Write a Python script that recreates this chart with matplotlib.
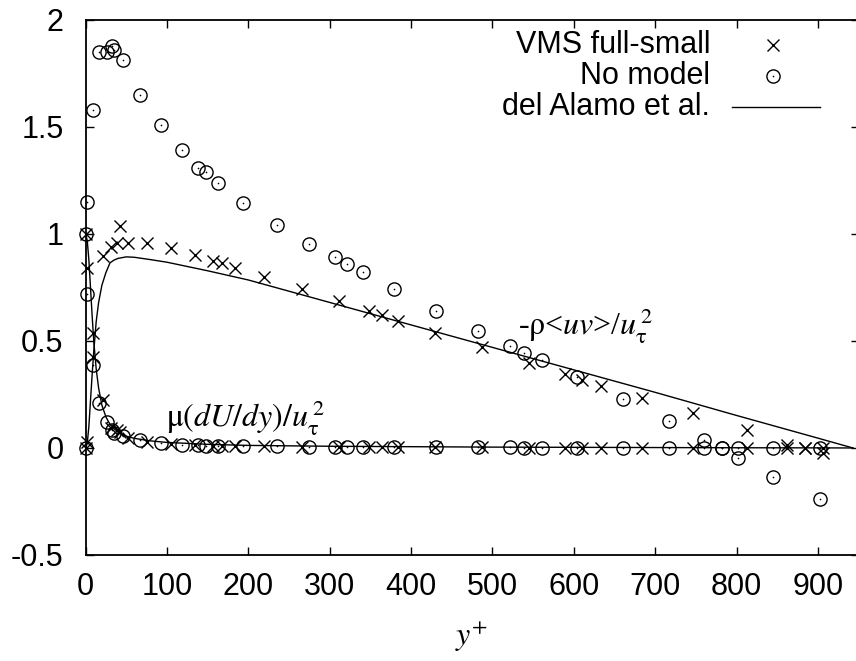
import matplotlib
matplotlib.use('Agg')
import matplotlib.pyplot as plt
from matplotlib.lines import Line2D

plt.rcParams['font.family'] = ['Liberation Sans', 'DejaVu Sans']
plt.rcParams['mathtext.fontset'] = 'stix'
plt.rcParams['axes.unicode_minus'] = False

# ---- data ----
vms_x = [0, 2.1, 9.5, 21, 30.8, 38.2, 42.3, 52.5, 75.1, 104.6, 134.5, 157, 167.3,
         183.6, 219.6, 265.6, 311.8, 348.7, 363.9, 384.3, 429.4, 486.8, 545.3,
         589.2, 609.7, 633.4, 683.4, 746.8, 812.5, 861.6, 884.0, 906.6]
vms_reynolds = [0.0, 0.03, 0.424, 0.897, 0.941, 0.956, 1.039, 0.959, 0.956, 0.936,
                0.902, 0.875, 0.863, 0.843, 0.798, 0.745, 0.687, 0.642, 0.621,
                0.595, 0.539, 0.470, 0.399, 0.346, 0.318, 0.291, 0.232, 0.162,
                0.084, 0.014, 0.0, -0.025]
vms_viscous = [1.0, 0.84, 0.536, 0.224, 0.092, 0.084, 0.076, 0.045, 0.029, 0.018,
               0.013, 0.010, 0.009, 0.008, 0.007, 0.006, 0.005, 0.004, 0.004,
               0.004, 0.003, 0.003, 0.002, 0.002, 0.002, 0.002, 0.001, 0.001,
               0.001, 0.0, 0.0, 0.0]

nomodel_x = [0, 1.7, 8.7, 16.8, 26.7, 32.8, 35.3, 46.3, 66.9, 92.7, 118.8, 138.5,
             148.0, 163.1, 193.8, 234.9, 274.9, 306.5, 320.9, 340.5, 379.0, 430.6,
             481.9, 521.6, 539.1, 560.5, 603.5, 660.1, 717.0, 760.4, 781.7, 802.1,
             845.2, 902.5]
nomodel_reynolds = [0.0, 1.15, 1.58, 1.849, 1.849, 1.880, 1.860, 1.813, 1.650,
                    1.509, 1.393, 1.310, 1.291, 1.240, 1.145, 1.042, 0.955, 0.893,
                    0.860, 0.824, 0.742, 0.640, 0.548, 0.478, 0.445, 0.411, 0.333,
                    0.229, 0.126, 0.037, 0.0, -0.045, -0.137, -0.240]
nomodel_viscous = [1.0, 0.72, 0.39, 0.209, 0.123, 0.084, 0.072, 0.056, 0.037,
                   0.022, 0.015, 0.012, 0.011, 0.010, 0.008, 0.007, 0.006, 0.005,
                   0.005, 0.004, 0.004, 0.003, 0.003, 0.003, 0.002, 0.002, 0.002,
                   0.001, 0.001, 0.001, 0.0, 0.0, 0.0, 0.0]

ref_x = [0, 2, 4, 6, 8, 10, 13, 16, 20, 25, 30, 35, 40, 50, 60, 80, 100, 150,
         200, 300, 400, 500, 600, 700, 800, 900, 943]
ref_reynolds = [0.0, 0.02, 0.10, 0.22, 0.34, 0.45, 0.59, 0.68, 0.76, 0.82, 0.865,
                0.878, 0.886, 0.893, 0.891, 0.880, 0.868, 0.828, 0.785, 0.680,
                0.575, 0.470, 0.365, 0.260, 0.152, 0.046, 0.0]
ref_viscous = [1.0, 0.97, 0.88, 0.75, 0.62, 0.50, 0.37, 0.28, 0.20, 0.145, 0.11,
               0.09, 0.075, 0.055, 0.045, 0.033, 0.026, 0.017, 0.012, 0.008,
               0.006, 0.004, 0.003, 0.002, 0.001, 0.0005, 0.0]

x_ticks = [0, 100, 200, 300, 400, 500, 600, 700, 800, 900]
y_ticks = [-0.5, 0, 0.5, 1, 1.5, 2]
y_tick_labels = ['-0.5', '0', '0.5', '1', '1.5', '2']

legend_labels = ['VMS full-small', 'No model', 'del Alamo et al.']

# ---- figure ----
fig = plt.figure(figsize=(8.56, 6.61), dpi=100)
ax = fig.add_axes([0.1, 0.1604, 0.903, 0.8094])

lw = 1.0
xkw = dict(linestyle='none', marker='x', markersize=8.5, markeredgewidth=1.0,
           color='black', clip_on=False, zorder=3)
okw = dict(linestyle='none', marker='o', markersize=9.5, markeredgewidth=1.0,
           markerfacecolor='none', markeredgecolor='black', clip_on=False, zorder=3)
dkw = dict(linestyle='none', marker='o', markersize=1.2, markeredgewidth=0,
           color='black', clip_on=False, zorder=3)

ax.plot(ref_x, ref_reynolds, color='black', lw=lw, zorder=2)
ax.plot(ref_x, ref_viscous, color='black', lw=lw, zorder=2)

ax.plot(vms_x, vms_reynolds, **xkw)
ax.plot(vms_x, vms_viscous, **xkw)

ax.plot(nomodel_x, nomodel_reynolds, **okw)
ax.plot(nomodel_x, nomodel_reynolds, **dkw)
ax.plot(nomodel_x, nomodel_viscous, **okw)
ax.plot(nomodel_x, nomodel_viscous, **dkw)

ax.set_xlim(0, 950)
ax.set_ylim(-0.5, 2)
ax.set_xticks(x_ticks)
ax.set_xticklabels([str(t) for t in x_ticks])
ax.set_yticks(y_ticks)
ax.set_yticklabels(y_tick_labels)
ax.tick_params(direction='in', length=6, width=1.0, top=True, right=True,
               labelsize=22)
ax.tick_params(axis='x', pad=12)
ax.tick_params(axis='y', pad=16)
for s in ax.spines.values():
    s.set_linewidth(1.3)

ax.set_xlabel(r'$y^{+}$', fontsize=23, labelpad=13)

# annotations
serif = ['Liberation Serif', 'DejaVu Serif']
ax.text(99, 0.1, r'$\mathrm{\mu}(dU/dy)/u_{\mathrm{\tau}}^{\,2}$', fontsize=23,
        ha='left', va='baseline', family=serif)
ax.text(531, 0.528, r'-$\mathrm{\rho}$<$uv$>/$u_{\mathrm{\tau}}^{\,2}$',
        fontsize=23, ha='left', va='baseline', family=serif)

# legend (drawn manually to get right-aligned labels)
rows_y = [0.953, 0.895, 0.837]
tx = 0.808
mx = 0.889
for lab, yy in zip(legend_labels, rows_y):
    ax.text(tx, yy, lab, transform=ax.transAxes, ha='right', va='center',
            fontsize=22)
ax.add_line(Line2D([mx], [rows_y[0]], transform=ax.transAxes, marker='x',
                   markersize=8.5, markeredgewidth=1.0, color='black'))
ax.add_line(Line2D([mx], [rows_y[1]], transform=ax.transAxes, marker='o',
                   markersize=9.5, markeredgewidth=1.0, markerfacecolor='none',
                   markeredgecolor='black'))
ax.add_line(Line2D([mx], [rows_y[1]], transform=ax.transAxes, marker='o',
                   markersize=1.2, markeredgewidth=0, color='black'))
ax.add_line(Line2D([0.836, 0.950], [rows_y[2], rows_y[2]], transform=ax.transAxes,
                   color='black', lw=lw))

fig.savefig('out.png', dpi=100)
